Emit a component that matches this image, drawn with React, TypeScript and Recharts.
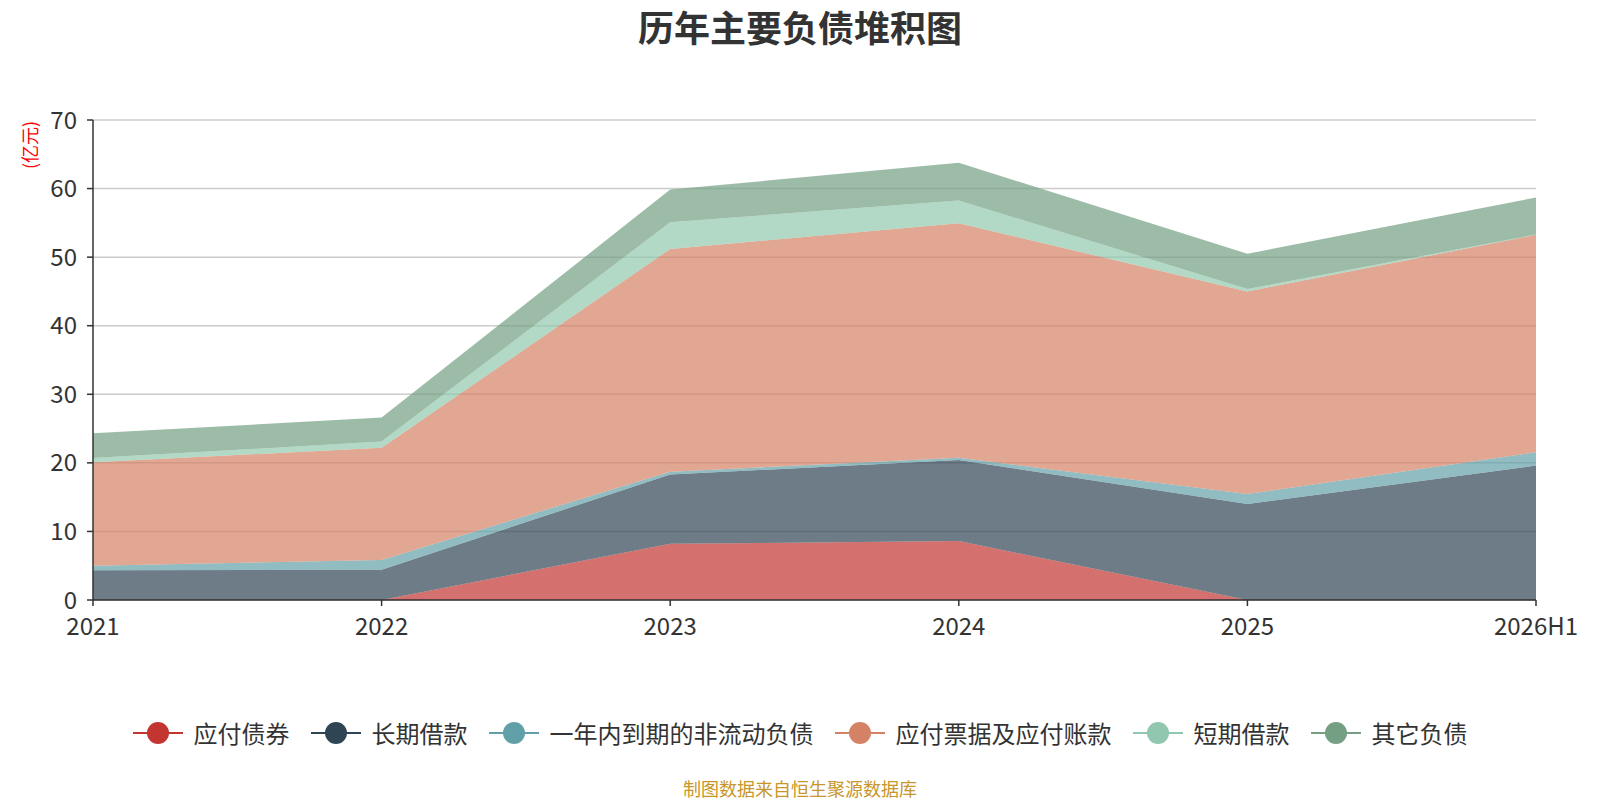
import React from 'react';
import { AreaChart, Area, XAxis, YAxis, CartesianGrid } from 'recharts';

const categories = ['2021', '2022', '2023', '2024', '2025', '2026H1'];
const bondsPayable = [0, 0, 8.2, 8.6, 0, 0];
const longTermLoans = [4.35, 4.4, 10.1, 11.8, 14.0, 19.6];
const currentNonCurrent = [0.65, 1.45, 0.4, 0.35, 1.45, 1.95];
const notesAccountsPayable = [15.1, 16.35, 32.5, 34.2, 29.55, 31.7];
const shortTermLoans = [0.6, 0.9, 3.9, 3.3, 0.35, 0.05];
const otherLiabilities = [3.6, 3.5, 4.75, 5.5, 5.15, 5.4];
const yTicks = [0, 10, 20, 30, 40, 50, 60, 70];

const seriesNames = ['应付债券', '长期借款', '一年内到期的非流动负债', '应付票据及应付账款', '短期借款', '其它负债'];
const seriesColors = ['#c23531', '#2f4554', '#61a0a8', '#d48265', '#91c7ae', '#749f83'];
const seriesValues = [bondsPayable, longTermLoans, currentNonCurrent, notesAccountsPayable, shortTermLoans, otherLiabilities];
const keys = ['s0', 's1', 's2', 's3', 's4', 's5'];

const data = categories.map((c, i) => {
  const row: Record<string, string | number> = { name: c };
  seriesValues.forEach((arr, k) => {
    row[keys[k]] = arr[i];
  });
  return row;
});

const FONT = '"Noto Sans CJK SC", "Noto Sans", sans-serif';

export default function App() {
  return (
    <div style={{ position: 'absolute', left: 0, top: 0, width: 1600, height: 800, background: '#fff', fontFamily: FONT }}>
      <div style={{ position: 'absolute', left: 0, top: 1, width: 1600, textAlign: 'center', fontSize: 36, fontWeight: 'bold', color: '#333', lineHeight: '50px' }}>
        历年主要负债堆积图
      </div>
      <div style={{ position: 'absolute', left: 0, top: 0 }}>
        <AreaChart width={1600} height={800} data={data} margin={{ top: 120, right: 64, left: 0, bottom: 170 }}>
          <CartesianGrid vertical={false} stroke="#ccc" strokeWidth={1.5} />
          <XAxis
            dataKey="name"
            height={30}
            interval={0}
            tickSize={6}
            tickMargin={12}
            axisLine={{ stroke: '#333', strokeWidth: 1.5 }}
            tickLine={{ stroke: '#333', strokeWidth: 1.5 }}
            tick={{ fill: '#333', fontSize: 24, fontFamily: FONT }}
          />
          <YAxis
            width={93}
            domain={[0, 70]}
            ticks={yTicks}
            interval={0}
            tickSize={6}
            tickMargin={10}
            axisLine={{ stroke: '#333', strokeWidth: 1.5 }}
            tickLine={{ stroke: '#333', strokeWidth: 1.5 }}
            tick={{ fill: '#333', fontSize: 24, fontFamily: FONT }}
            label={{
              content: () => (
                <text x={37} y={145} transform="rotate(-90 37 145)" textAnchor="middle" fill="#ff0000" fontSize={18} fontFamily={FONT}>
                  (亿元)
                </text>
              ),
            }}
          />
          {keys.map((k, i) => (
            <Area
              key={k}
              type="linear"
              dataKey={k}
              name={seriesNames[i]}
              stackId="1"
              stroke="none"
              fill={seriesColors[i]}
              fillOpacity={0.7}
              dot={false}
              activeDot={false}
              isAnimationActive={false}
            />
          ))}
        </AreaChart>
      </div>
      <div style={{ position: 'absolute', left: 0, top: 713, width: 1600, display: 'flex', justifyContent: 'center', alignItems: 'center', gap: 21 }}>
        {seriesNames.map((n, i) => (
          <div key={n} style={{ display: 'flex', alignItems: 'center' }}>
            <svg width={50} height={26} style={{ marginRight: 11 }}>
              <line x1={0} y1={13} x2={50} y2={13} stroke={seriesColors[i]} strokeWidth={2} />
              <circle cx={25} cy={13} r={11} fill={seriesColors[i]} />
            </svg>
            <span style={{ fontSize: 24, color: '#333', lineHeight: '40px' }}>{n}</span>
          </div>
        ))}
      </div>
      <div style={{ position: 'absolute', left: 0, top: 775, width: 1600, textAlign: 'center', fontSize: 18, color: '#c8962a', lineHeight: '26px' }}>
        制图数据来自恒生聚源数据库
      </div>
    </div>
  );
}
